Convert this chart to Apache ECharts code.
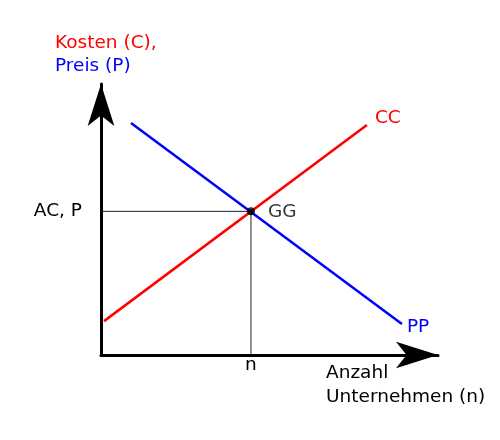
<!DOCTYPE html>
<html>
<head>
<meta charset="utf-8">
<script src="https://cdn.jsdelivr.net/npm/echarts@6/dist/echarts.min.js"></script>
<style>html,body{margin:0;padding:0;background:#fff;}#c{width:500px;height:440px;}</style>
</head>
<body>
<div id="c"></div>
<script>
// Data (abstract units)
var ccLine = [[0.09, 1.25], [7.89, 8.49]];
var ppLine = [[0.89, 8.56], [8.93, 1.14]];
var equilibrium = [4.45, 5.30];
var seriesNames = ['CC', 'PP', 'GG'];
var yAxisTitleLines = ['Kosten (C),', 'Preis (P)'];
var xAxisTitleLines = ['Anzahl', 'Unternehmen (n)'];
var yTickLabel = 'AC, P';
var xTickLabel = 'n';

var FONT = 'DejaVu Sans';
var FS = 18.5;
var chart = echarts.init(document.getElementById('c'), null, {renderer: 'canvas'});
var dropLine = [[0, equilibrium[1]], equilibrium, [equilibrium[0], 0]];

chart.setOption({
  animation: false,
  backgroundColor: '#fff',
  title: [
    {
      left: 50, top: 27,
      text: '{c|' + yAxisTitleLines[0] + '}\n{p|' + yAxisTitleLines[1] + '}',
      textStyle: {
        fontWeight: 'normal',
        rich: {
          c: {color: '#ff0000', fontFamily: FONT, fontSize: FS, fontWeight: 'normal', lineHeight: 23},
          p: {color: '#0000ff', fontFamily: FONT, fontSize: FS, fontWeight: 'normal', lineHeight: 23}
        }
      }
    },
    {
      left: 321, top: 356,
      text: xAxisTitleLines.join('\n'),
      textStyle: {color: '#000', fontFamily: FONT, fontSize: FS, fontWeight: 'normal', lineHeight: 24}
    }
  ],
  grid: {left: 101, right: 62, top: 84, bottom: 85},
  xAxis: {
    type: 'value', min: 0, max: 10,
    splitLine: {show: false}, axisTick: {show: false}, axisLabel: {show: false},
    axisLine: {show: true, onZero: false, lineStyle: {color: '#000', width: 3},
      symbol: ['none', 'arrow'], symbolSize: [20, 42]}
  },
  yAxis: {
    type: 'value', min: 0, max: 10,
    splitLine: {show: false}, axisTick: {show: false}, axisLabel: {show: false},
    axisLine: {show: true, onZero: false, lineStyle: {color: '#000', width: 3},
      symbol: ['none', 'arrow'], symbolSize: [20, 42]}
  },
  series: [
    {
      type: 'line', data: dropLine, symbol: 'none', silent: true,
      lineStyle: {color: '#222', width: 1}, z: 1,
      markPoint: {
        symbol: 'circle', symbolSize: 0,
        data: [
          {coord: dropLine[0], label: {show: true, formatter: yTickLabel, position: 'left', distance: 19, color: '#000', fontFamily: FONT, fontSize: FS}},
          {coord: dropLine[2], label: {show: true, formatter: xTickLabel, position: 'bottom', distance: 1, color: '#000', fontFamily: FONT, fontSize: FS}}
        ]
      }
    },
    {
      name: seriesNames[0], type: 'line', data: ccLine, symbol: 'none', z: 3,
      lineStyle: {color: '#ff0000', width: 2.5},
      markPoint: {
        symbol: 'circle', symbolSize: 0,
        data: [{coord: ccLine[1], label: {show: true, formatter: seriesNames[0], position: 'right', distance: 8, offset: [0, -7], color: '#ff0000', fontFamily: FONT, fontSize: FS}}]
      }
    },
    {
      name: seriesNames[1], type: 'line', data: ppLine, symbol: 'none', z: 3,
      lineStyle: {color: '#0000ff', width: 2.5},
      markPoint: {
        symbol: 'circle', symbolSize: 0,
        data: [{coord: ppLine[1], label: {show: true, formatter: seriesNames[1], position: 'right', distance: 5, offset: [0, 3], color: '#0000ff', fontFamily: FONT, fontSize: FS}}]
      }
    },
    {
      name: seriesNames[2], type: 'scatter', data: [equilibrium], symbol: 'circle', symbolSize: 8, z: 5,
      itemStyle: {color: '#000'},
      label: {show: true, formatter: seriesNames[2], position: 'right', distance: 13, offset: [0, 1], color: '#000', fontFamily: FONT, fontSize: FS}
    }
  ]
});
</script>
</body>
</html>
